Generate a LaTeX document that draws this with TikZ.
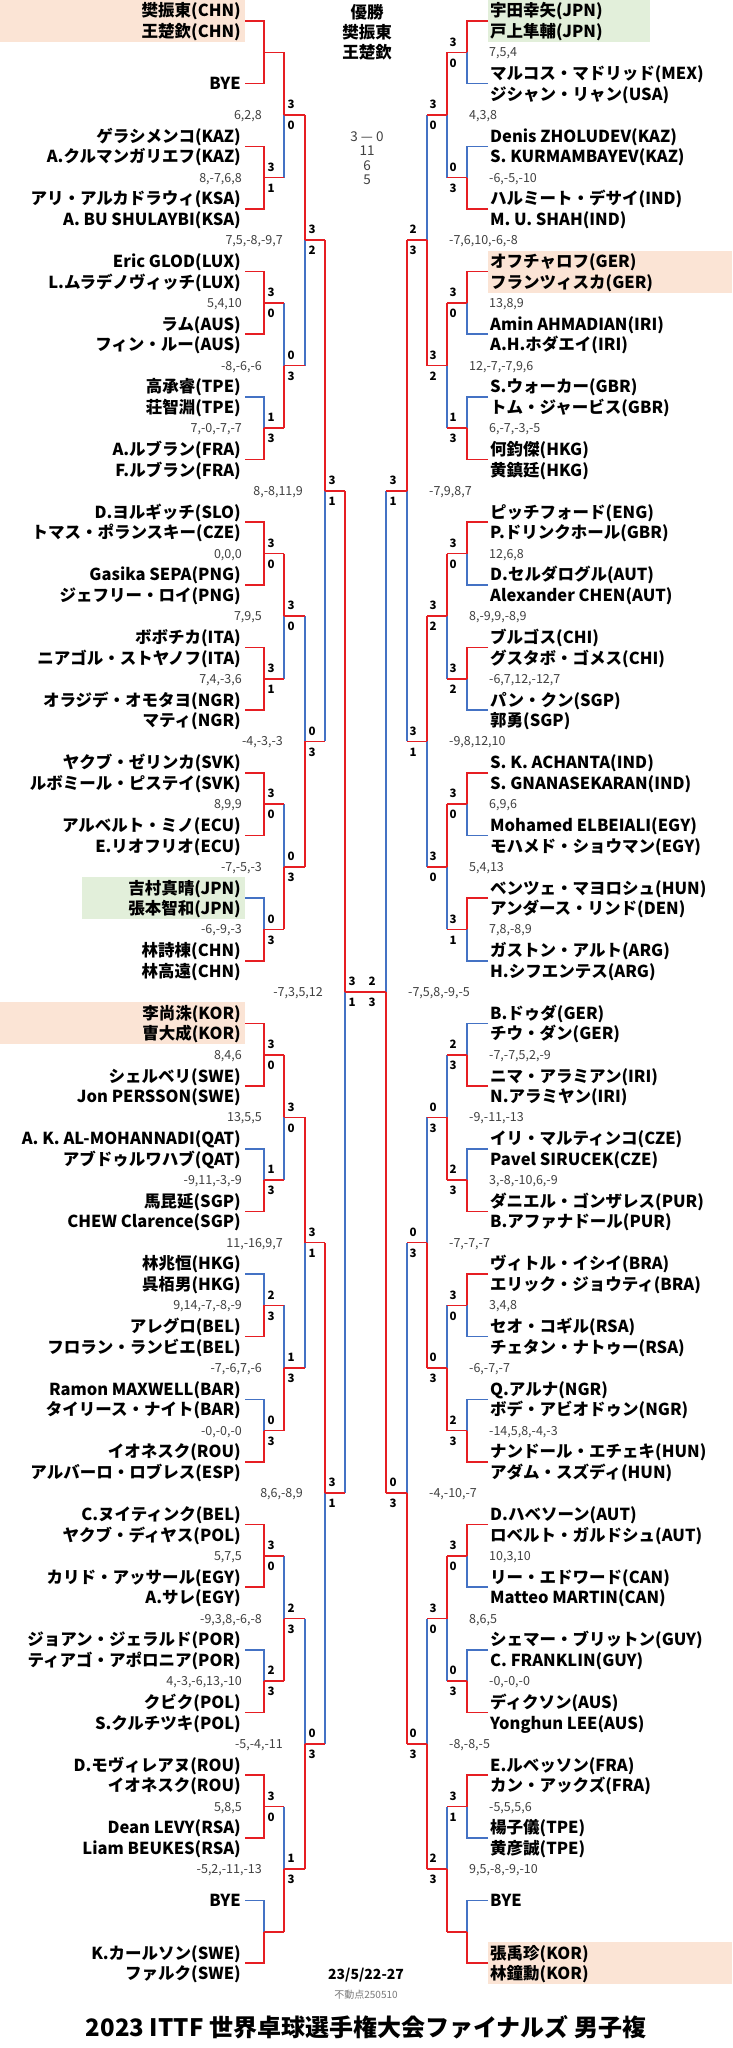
\documentclass[tikz,border=0pt]{standalone}
\usepackage{fontspec}
\setmainfont{Noto Sans CJK JP}
\definecolor{wred}{RGB}{230,30,35}
\definecolor{lblue}{RGB}{68,114,196}
\definecolor{bgor}{RGB}{251,228,213}
\definecolor{bggr}{RGB}{226,239,218}
\definecolor{gtxt}{RGB}{64,64,64}
\definecolor{ltxt}{RGB}{120,120,120}
\newcommand\TeamL[3]{%
  \pgfmathsetmacro\tyy{21+62.65*#1}%
  \node[nm,anchor=east] (L#1a) at (241,\tyy-10.3) {#2};%
  \node[nm,anchor=east] (L#1b) at (241,\tyy+10.3) {#3};%
  \coordinate (L#1) at (245,\tyy);}
\newcommand\TeamR[3]{%
  \pgfmathsetmacro\tyy{21+62.65*#1}%
  \node[nm,anchor=west] (R#1a) at (490,\tyy-10.3) {#2};%
  \node[nm,anchor=west] (R#1b) at (490,\tyy+10.3) {#3};%
  \coordinate (R#1) at (488,\tyy);}
\newcommand\ByeL[1]{%
  \pgfmathsetmacro\tyy{21+62.65*#1}%
  \node[nm,anchor=east] (L#1a) at (241,\tyy) {BYE};%
  \coordinate (L#1) at (245,\tyy);}
\newcommand\ByeR[1]{%
  \pgfmathsetmacro\tyy{21+62.65*#1}%
  \node[nm,anchor=west] (R#1a) at (490,\tyy) {BYE};%
  \coordinate (R#1) at (488,\tyy);}
\newcommand\Junc[4]{%
  \pgfmathsetmacro\jyy{21+62.65*(#3*#4+(#3-1)/2)}%
  \coordinate (#1) at (#2,\jyy);}
\newcommand\MatchA[5]{%
  \draw[#4] (#1) -| (#3);
  \draw[#5] (#2) -| (#3);}
\newcommand\MatchB[5]{%
  \draw[#4] (#1 -| #3) -- (#3);
  \draw[#5] (#2 -| #3) -- (#3);
  \draw[won] (#1) -- (#1 -| #3);
  \draw[won] (#2) -- (#2 -| #3);}
\newcommand\ScL[4]{%
  \node[rl] (#1t) at ([shift={(7pt,10.5pt)}]#1) {#2};
  \node[rl] (#1b) at ([shift={(7pt,-10.5pt)}]#1) {#3};
  \node[gs,anchor=east] (#1g) at ([xshift=-22pt]#1) {#4};}
\newcommand\ScR[4]{%
  \node[rl] (#1t) at ([shift={(-14pt,10.5pt)}]#1) {#2};
  \node[rl] (#1b) at ([shift={(-14pt,-10.5pt)}]#1) {#3};
  \node[gs,anchor=west] (#1g) at ([xshift=22pt]#1) {#4};}
\begin{document}
\begin{tikzpicture}[x=1pt,y=-1pt,
  nm/.style={font=\bfseries\fontsize{16.5}{18}\selectfont,inner sep=0pt,text height=12.5pt,text depth=0pt},
  won/.style={draw=wred,line width=1.6pt,line cap=square},
  lost/.style={draw=lblue,line width=1.6pt,line cap=square},
  rl/.style={font=\bfseries\fontsize{11.5}{12}\selectfont,inner sep=0pt,text height=8.4pt,text depth=0pt},
  gs/.style={font=\fontsize{12.5}{13}\selectfont,text=gtxt,inner sep=0pt,text height=9pt,text depth=0pt},
  ctr/.style={inner sep=0pt}]
\useasboundingbox (0,0) rectangle (732,2048);
\fill[white] (0,0) rectangle (732,2048);
% highlighted entries
\fill[bgor] (0,0) rectangle (245,42);
\fill[bggr] (488,0) rectangle (650,42);
\fill[bgor] (488,250.6) rectangle (732,292.6);
\fill[bggr] (82,877) rectangle (245,919);
\fill[bgor] (0,1002.4) rectangle (245,1044.4);
\fill[bgor] (488,1942) rectangle (732,1984);
% junctions
\foreach \k in {0,...,15} {\Junc{La\k}{264}{2}{\k}\Junc{Ra\k}{467}{2}{\k}}
\foreach \k in {0,...,7} {\Junc{Lb\k}{284}{4}{\k}\Junc{Rb\k}{447}{4}{\k}}
\foreach \k in {0,...,3} {\Junc{Lc\k}{305}{8}{\k}\Junc{Rc\k}{427}{8}{\k}}
\foreach \k in {0,1} {\Junc{Ld\k}{325}{16}{\k}\Junc{Rd\k}{407}{16}{\k}}
\Junc{Le0}{345}{32}{0}
\Junc{Re0}{386}{32}{0}
% left teams
\TeamL{0}{樊振東(CHN)}{王楚欽(CHN)}
\ByeL{1}
\TeamL{2}{ゲラシメンコ(KAZ)}{A.クルマンガリエフ(KAZ)}
\TeamL{3}{アリ・アルカドラウィ(KSA)}{A. BU SHULAYBI(KSA)}
\TeamL{4}{Eric GLOD(LUX)}{L.ムラデノヴィッチ(LUX)}
\TeamL{5}{ラム(AUS)}{フィン・ルー(AUS)}
\TeamL{6}{高承睿(TPE)}{荘智淵(TPE)}
\TeamL{7}{A.ルブラン(FRA)}{F.ルブラン(FRA)}
\TeamL{8}{D.ヨルギッチ(SLO)}{トマス・ポランスキー(CZE)}
\TeamL{9}{Gasika SEPA(PNG)}{ジェフリー・ロイ(PNG)}
\TeamL{10}{ボボチカ(ITA)}{ニアゴル・ストヤノフ(ITA)}
\TeamL{11}{オラジデ・オモタヨ(NGR)}{マティ(NGR)}
\TeamL{12}{ヤクブ・ゼリンカ(SVK)}{ルボミール・ピステイ(SVK)}
\TeamL{13}{アルベルト・ミノ(ECU)}{E.リオフリオ(ECU)}
\TeamL{14}{吉村真晴(JPN)}{張本智和(JPN)}
\TeamL{15}{林詩棟(CHN)}{林高遠(CHN)}
\TeamL{16}{李尚洙(KOR)}{曺大成(KOR)}
\TeamL{17}{シェルベリ(SWE)}{Jon PERSSON(SWE)}
\TeamL{18}{A. K. AL-MOHANNADI(QAT)}{アブドゥルワハブ(QAT)}
\TeamL{19}{馬昆延(SGP)}{CHEW Clarence(SGP)}
\TeamL{20}{林兆恒(HKG)}{呉栢男(HKG)}
\TeamL{21}{アレグロ(BEL)}{フロラン・ランビエ(BEL)}
\TeamL{22}{Ramon MAXWELL(BAR)}{タイリース・ナイト(BAR)}
\TeamL{23}{イオネスク(ROU)}{アルバーロ・ロブレス(ESP)}
\TeamL{24}{C.ヌイティンク(BEL)}{ヤクブ・ディヤス(POL)}
\TeamL{25}{カリド・アッサール(EGY)}{A.サレ(EGY)}
\TeamL{26}{ジョアン・ジェラルド(POR)}{ティアゴ・アポロニア(POR)}
\TeamL{27}{クビク(POL)}{S.クルチツキ(POL)}
\TeamL{28}{D.モヴィレアヌ(ROU)}{イオネスク(ROU)}
\TeamL{29}{Dean LEVY(RSA)}{Liam BEUKES(RSA)}
\ByeL{30}
\TeamL{31}{K.カールソン(SWE)}{ファルク(SWE)}
% right teams
\TeamR{0}{宇田幸矢(JPN)}{戸上隼輔(JPN)}
\TeamR{1}{マルコス・マドリッド(MEX)}{ジシャン・リャン(USA)}
\TeamR{2}{Denis ZHOLUDEV(KAZ)}{S. KURMAMBAYEV(KAZ)}
\TeamR{3}{ハルミート・デサイ(IND)}{M. U. SHAH(IND)}
\TeamR{4}{オフチャロフ(GER)}{フランツィスカ(GER)}
\TeamR{5}{Amin AHMADIAN(IRI)}{A.H.ホダエイ(IRI)}
\TeamR{6}{S.ウォーカー(GBR)}{トム・ジャービス(GBR)}
\TeamR{7}{何鈞傑(HKG)}{黄鎮廷(HKG)}
\TeamR{8}{ピッチフォード(ENG)}{P.ドリンクホール(GBR)}
\TeamR{9}{D.セルダログル(AUT)}{Alexander CHEN(AUT)}
\TeamR{10}{ブルゴス(CHI)}{グスタボ・ゴメス(CHI)}
\TeamR{11}{パン・クン(SGP)}{郭勇(SGP)}
\TeamR{12}{S. K. ACHANTA(IND)}{S. GNANASEKARAN(IND)}
\TeamR{13}{Mohamed ELBEIALI(EGY)}{モハメド・ショウマン(EGY)}
\TeamR{14}{ベンツェ・マヨロシュ(HUN)}{アンダース・リンド(DEN)}
\TeamR{15}{ガストン・アルト(ARG)}{H.シフエンテス(ARG)}
\TeamR{16}{B.ドゥダ(GER)}{チウ・ダン(GER)}
\TeamR{17}{ニマ・アラミアン(IRI)}{N.アラミヤン(IRI)}
\TeamR{18}{イリ・マルティンコ(CZE)}{Pavel SIRUCEK(CZE)}
\TeamR{19}{ダニエル・ゴンザレス(PUR)}{B.アファナドール(PUR)}
\TeamR{20}{ヴィトル・イシイ(BRA)}{エリック・ジョウティ(BRA)}
\TeamR{21}{セオ・コギル(RSA)}{チェタン・ナトゥー(RSA)}
\TeamR{22}{Q.アルナ(NGR)}{ボデ・アビオドゥン(NGR)}
\TeamR{23}{ナンドール・エチェキ(HUN)}{アダム・スズディ(HUN)}
\TeamR{24}{D.ハベソーン(AUT)}{ロベルト・ガルドシュ(AUT)}
\TeamR{25}{リー・エドワード(CAN)}{Matteo MARTIN(CAN)}
\TeamR{26}{シェマー・ブリットン(GUY)}{C. FRANKLIN(GUY)}
\TeamR{27}{ディクソン(AUS)}{Yonghun LEE(AUS)}
\TeamR{28}{E.ルベッソン(FRA)}{カン・アックズ(FRA)}
\TeamR{29}{楊子儀(TPE)}{黄彦誠(TPE)}
\ByeR{30}
\TeamR{31}{張禹珍(KOR)}{林鐘勳(KOR)}
% ---- left bracket
\MatchA{L0}{L1}{La0}{lost}{won}
\draw[won] (L0) -| (La0);
\MatchA{L2}{L3}{La1}{lost}{won}
\draw[won] (L2) -| (La1);
\MatchA{L4}{L5}{La2}{lost}{won}
\draw[won] (L4) -| (La2);
\MatchA{L6}{L7}{La3}{lost}{won}
\MatchA{L8}{L9}{La4}{lost}{won}
\draw[won] (L8) -| (La4);
\MatchA{L10}{L11}{La5}{lost}{won}
\draw[won] (L10) -| (La5);
\MatchA{L12}{L13}{La6}{lost}{won}
\draw[won] (L12) -| (La6);
\MatchA{L14}{L15}{La7}{lost}{won}
\MatchA{L16}{L17}{La8}{lost}{won}
\draw[won] (L16) -| (La8);
\MatchA{L18}{L19}{La9}{lost}{won}
\MatchA{L20}{L21}{La10}{lost}{won}
\MatchA{L22}{L23}{La11}{lost}{won}
\MatchA{L24}{L25}{La12}{lost}{won}
\draw[won] (L24) -| (La12);
\MatchA{L26}{L27}{La13}{lost}{won}
\MatchA{L28}{L29}{La14}{lost}{won}
\draw[won] (L28) -| (La14);
\MatchA{L30}{L31}{La15}{lost}{won}
\MatchB{La0}{La1}{Lb0}{won}{lost}
\MatchB{La2}{La3}{Lb1}{lost}{won}
\MatchB{La4}{La5}{Lb2}{won}{lost}
\MatchB{La6}{La7}{Lb3}{lost}{won}
\MatchB{La8}{La9}{Lb4}{won}{lost}
\MatchB{La10}{La11}{Lb5}{lost}{won}
\MatchB{La12}{La13}{Lb6}{lost}{won}
\MatchB{La14}{La15}{Lb7}{lost}{won}
\MatchB{Lb0}{Lb1}{Lc0}{won}{lost}
\MatchB{Lb2}{Lb3}{Lc1}{lost}{won}
\MatchB{Lb4}{Lb5}{Lc2}{won}{lost}
\MatchB{Lb6}{Lb7}{Lc3}{lost}{won}
\MatchB{Lc0}{Lc1}{Ld0}{won}{lost}
\MatchB{Lc2}{Lc3}{Ld1}{won}{lost}
\MatchB{Ld0}{Ld1}{Le0}{won}{lost}
% ---- right bracket
\MatchA{R0}{R1}{Ra0}{won}{lost}
\MatchA{R2}{R3}{Ra1}{lost}{won}
\MatchA{R4}{R5}{Ra2}{won}{lost}
\MatchA{R6}{R7}{Ra3}{lost}{won}
\MatchA{R8}{R9}{Ra4}{won}{lost}
\MatchA{R10}{R11}{Ra5}{won}{lost}
\MatchA{R12}{R13}{Ra6}{won}{lost}
\MatchA{R14}{R15}{Ra7}{won}{lost}
\MatchA{R16}{R17}{Ra8}{lost}{won}
\MatchA{R18}{R19}{Ra9}{lost}{won}
\MatchA{R20}{R21}{Ra10}{won}{lost}
\MatchA{R22}{R23}{Ra11}{lost}{won}
\MatchA{R24}{R25}{Ra12}{won}{lost}
\MatchA{R26}{R27}{Ra13}{lost}{won}
\MatchA{R28}{R29}{Ra14}{won}{lost}
\MatchA{R30}{R31}{Ra15}{lost}{won}
\MatchB{Ra0}{Ra1}{Rb0}{won}{lost}
\MatchB{Ra2}{Ra3}{Rb1}{won}{lost}
\MatchB{Ra4}{Ra5}{Rb2}{won}{lost}
\MatchB{Ra6}{Ra7}{Rb3}{won}{lost}
\MatchB{Ra8}{Ra9}{Rb4}{lost}{won}
\MatchB{Ra10}{Ra11}{Rb5}{lost}{won}
\MatchB{Ra12}{Ra13}{Rb6}{won}{lost}
\MatchB{Ra14}{Ra15}{Rb7}{lost}{won}
\MatchB{Rb0}{Rb1}{Rc0}{lost}{won}
\MatchB{Rb2}{Rb3}{Rc1}{won}{lost}
\MatchB{Rb4}{Rb5}{Rc2}{lost}{won}
\MatchB{Rb6}{Rb7}{Rc3}{lost}{won}
\MatchB{Rc0}{Rc1}{Rd0}{won}{lost}
\MatchB{Rc2}{Rc3}{Rd1}{lost}{won}
\MatchB{Rd0}{Rd1}{Re0}{lost}{won}
% final
\draw[won] (Le0) -- (Re0);
% ---- left scores
\ScL{La1}{3}{1}{8,-7,6,8}
\ScL{La2}{3}{0}{5,4,10}
\ScL{La3}{1}{3}{7,-0,-7,-7}
\ScL{La4}{3}{0}{0,0,0}
\ScL{La5}{3}{1}{7,4,-3,6}
\ScL{La6}{3}{0}{8,9,9}
\ScL{La7}{0}{3}{-6,-9,-3}
\ScL{La8}{3}{0}{8,4,6}
\ScL{La9}{1}{3}{-9,11,-3,-9}
\ScL{La10}{2}{3}{9,14,-7,-8,-9}
\ScL{La11}{0}{3}{-0,-0,-0}
\ScL{La12}{3}{0}{5,7,5}
\ScL{La13}{2}{3}{4,-3,-6,13,-10}
\ScL{La14}{3}{0}{5,8,5}
\ScL{Lb0}{3}{0}{6,2,8}
\ScL{Lb1}{0}{3}{-8,-6,-6}
\ScL{Lb2}{3}{0}{7,9,5}
\ScL{Lb3}{0}{3}{-7,-5,-3}
\ScL{Lb4}{3}{0}{13,5,5}
\ScL{Lb5}{1}{3}{-7,-6,7,-6}
\ScL{Lb6}{2}{3}{-9,3,8,-6,-8}
\ScL{Lb7}{1}{3}{-5,2,-11,-13}
\ScL{Lc0}{3}{2}{7,5,-8,-9,7}
\ScL{Lc1}{0}{3}{-4,-3,-3}
\ScL{Lc2}{3}{1}{11,-16,9,7}
\ScL{Lc3}{0}{3}{-5,-4,-11}
\ScL{Ld0}{3}{1}{8,-8,11,9}
\ScL{Ld1}{3}{1}{8,6,-8,9}
\ScL{Le0}{3}{1}{-7,3,5,12}
% ---- right scores
\ScR{Ra0}{3}{0}{7,5,4}
\ScR{Ra1}{0}{3}{-6,-5,-10}
\ScR{Ra2}{3}{0}{13,8,9}
\ScR{Ra3}{1}{3}{6,-7,-3,-5}
\ScR{Ra4}{3}{0}{12,6,8}
\ScR{Ra5}{3}{2}{-6,7,12,-12,7}
\ScR{Ra6}{3}{0}{6,9,6}
\ScR{Ra7}{3}{1}{7,8,-8,9}
\ScR{Ra8}{2}{3}{-7,-7,5,2,-9}
\ScR{Ra9}{2}{3}{3,-8,-10,6,-9}
\ScR{Ra10}{3}{0}{3,4,8}
\ScR{Ra11}{2}{3}{-14,5,8,-4,-3}
\ScR{Ra12}{3}{0}{10,3,10}
\ScR{Ra13}{0}{3}{-0,-0,-0}
\ScR{Ra14}{3}{1}{-5,5,5,6}
\ScR{Rb0}{3}{0}{4,3,8}
\ScR{Rb1}{3}{2}{12,-7,-7,9,6}
\ScR{Rb2}{3}{2}{8,-9,9,-8,9}
\ScR{Rb3}{3}{0}{5,4,13}
\ScR{Rb4}{0}{3}{-9,-11,-13}
\ScR{Rb5}{0}{3}{-6,-7,-7}
\ScR{Rb6}{3}{0}{8,6,5}
\ScR{Rb7}{2}{3}{9,5,-8,-9,-10}
\ScR{Rc0}{2}{3}{-7,6,10,-6,-8}
\ScR{Rc1}{3}{1}{-9,8,12,10}
\ScR{Rc2}{0}{3}{-7,-7,-7}
\ScR{Rc3}{0}{3}{-8,-8,-5}
\ScR{Rd0}{3}{1}{-7,9,8,7}
\ScR{Rd1}{0}{3}{-4,-10,-7}
\ScR{Re0}{2}{3}{-7,5,8,-9,-5}
% ---- centre texts
\node[ctr,font=\bfseries\fontsize{16.5}{18}\selectfont,text height=12.5pt,text depth=0pt] (ch1) at (367,12) {優勝};
\node[ctr,font=\bfseries\fontsize{16.5}{18}\selectfont,text height=12.5pt,text depth=0pt] (ch2) at (367,32) {樊振東};
\node[ctr,font=\bfseries\fontsize{16.5}{18}\selectfont,text height=12.5pt,text depth=0pt] (ch3) at (367,52) {王楚欽};
\node[ctr,font=\fontsize{13.5}{14}\selectfont,text=gtxt,text height=9.8pt,text depth=0pt] (cs1) at (367,137) {3 — 0};
\node[ctr,font=\fontsize{13.5}{14}\selectfont,text=gtxt,text height=9.8pt,text depth=0pt] (cs2) at (367,151) {11};
\node[ctr,font=\fontsize{13.5}{14}\selectfont,text=gtxt,text height=9.8pt,text depth=0pt] (cs3) at (367,165.5) {6};
\node[ctr,font=\fontsize{13.5}{14}\selectfont,text=gtxt,text height=9.8pt,text depth=0pt] (cs4) at (367,180) {5};
% ---- footer
\node[ctr,font=\bfseries\fontsize{14}{15}\selectfont,text height=10.2pt,text depth=0pt] (date) at (366,1974) {23/5/22-27};
\node[ctr,font=\fontsize{10}{11}\selectfont,text=ltxt,text height=7.5pt,text depth=0pt] (ver) at (366,1995) {不動点250510};
\node[ctr,font=\bfseries\fontsize{24}{26}\selectfont,text height=18pt,text depth=0pt] (title) at (366,2027) {2023 ITTF 世界卓球選手権大会ファイナルズ 男子複};
\end{tikzpicture}
\end{document}
